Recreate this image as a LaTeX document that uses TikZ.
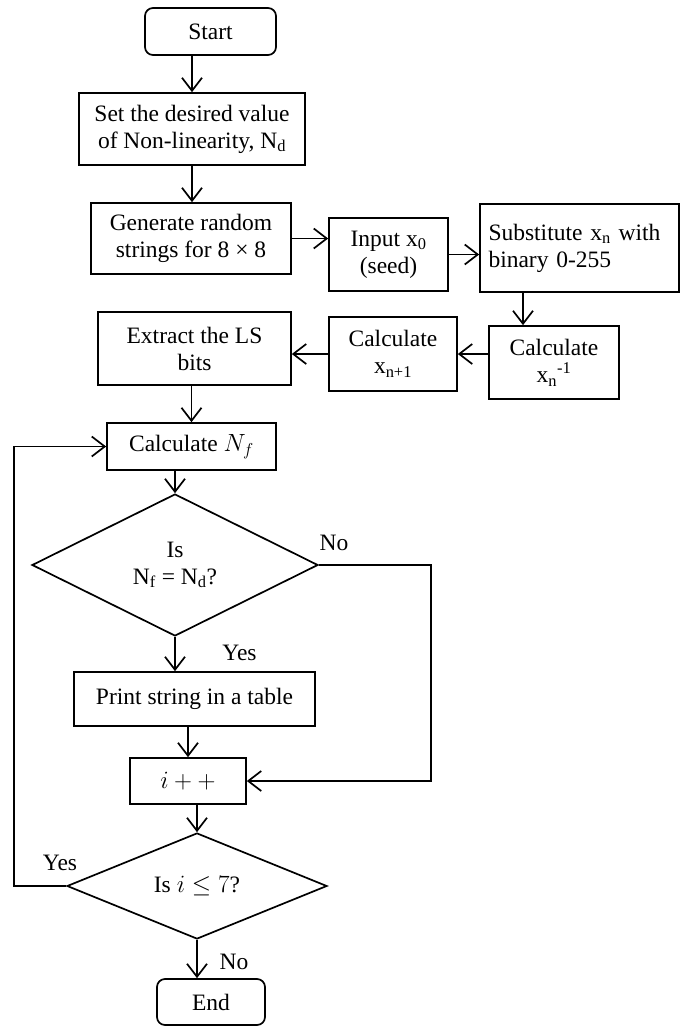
\documentclass[tikz,border=0pt]{standalone}
\usepackage{amsmath,amssymb,fontspec,tikz}
\setmainfont{Liberation Serif}
\usetikzlibrary{shapes,arrows.meta,calc,positioning}

\begin{document}
\begin{tikzpicture}[x=1pt, y=-1pt,
    font=\fontsize{23.5}{27}\selectfont, line width=1.7pt,
    box/.style={draw, rectangle, inner sep=0pt, align=center},
    term/.style={box, rounded corners=8pt},
    decision/.style={draw, diamond, inner sep=0pt, align=center},
    flow/.style={-{Straight Barb[length=13pt,width=20pt]}},
    lbl/.style={inner sep=0pt}]
  \useasboundingbox (0,0) rectangle (680,1026);

  \node[term, minimum width=131pt, minimum height=47pt] (start) at (210.5,31.5) {Start};
  \node[box, minimum width=226pt, minimum height=72pt] (setnd) at (192,129) {
    Set the desired value\\of Non-linearity, N\textsubscript{d}
  };
  \node[box, minimum width=200pt, minimum height=71pt] (gen) at (191,238.5) {
    Generate random\\strings for 8 × 8
  };
  \node[box, minimum width=119pt, minimum height=73pt] (seed) at (388.5,254.5) {
    Input x\textsubscript{0}\\(seed)
  };
  \node[box, align=left, text width=182pt, minimum width=199pt,
    minimum height=88pt] (subst) at (579.5,248) {
    Substitute x\textsubscript{n} with\\binary 0-255\\[8pt]
  };
  \node[box, minimum width=130pt, minimum height=73pt] (xinv) at (554,362.5) {
    Calculate\\x\textsubscript{n}\textsuperscript{-1}
  };
  \node[box, minimum width=128pt, minimum height=74pt] (xnext) at (393,354) {
    Calculate\\x\textsubscript{n+1}
  };
  \node[box, minimum width=193pt, minimum height=73pt] (extract) at (194.5,348.5) {
    Extract the LS\\bits
  };
  \node[box, minimum width=169pt, minimum height=47pt] (calcnf) at (191.5,446.5) {Calculate $N_f$};
  \node[decision, minimum width=286pt, minimum height=142pt] (isnf) at (175,565) {
    Is\\N\textsubscript{f} = N\textsubscript{d}?
  };
  \node[box, minimum width=241pt, minimum height=54pt] (print) at (194.5,699) {Print string in a table};
  \node[box, minimum width=116pt, minimum height=46pt] (incr) at (188,781) {$i++$};
  \node[decision, minimum width=260pt, minimum height=106pt] (isi) at (197,886) {Is $i \le 7$?};
  \node[term, minimum width=108pt, minimum height=46pt] (stop) at (211,1002) {End};

  \node[lbl] (nolbl) at (334,543) {No};
  \node[lbl] (yeslbl) at (239.5,653) {Yes};
  \node[lbl] (yesloop) at (60,863) {Yes};
  \node[lbl] (noend) at (234,962) {No};

  \draw[flow] (start.south -| setnd) -- (setnd.north);
  \draw[flow] (setnd.south) -- (setnd.south |- gen.north);
  \draw[flow] (gen.east) -- (gen.east -| seed.west);
  \draw[flow] (seed.east) -- (seed.east -| subst.west);
  \draw[flow] ([xshift=-31pt]xinv.north |- subst.south) -- ([xshift=-31pt]xinv.north);
  \draw[flow] (xnext.east -| xinv.west) -- (xnext.east);
  \draw[flow] (xnext.west) -- (xnext.west -| extract.east);
  \draw[flow] (extract.south -| calcnf) -- (calcnf.north);
  \draw[flow] (calcnf.south -| isnf) -- (isnf.north);
  \draw[flow] (isnf.south) -- (isnf.south |- print.north);
  \draw[flow] (print.south -| incr) -- (incr.north);
  \draw[flow] (incr.south -| isi) -- (isi.north);
  \draw[flow] (isi.south) -- (isi.south |- stop.north);
  \draw[flow] (isnf.east) -- ++(112,0) |- (incr.east);
  \draw[flow] (isi.west) -- ++(-52,0) |- (calcnf.west);
  \end{tikzpicture}
\end{document}
